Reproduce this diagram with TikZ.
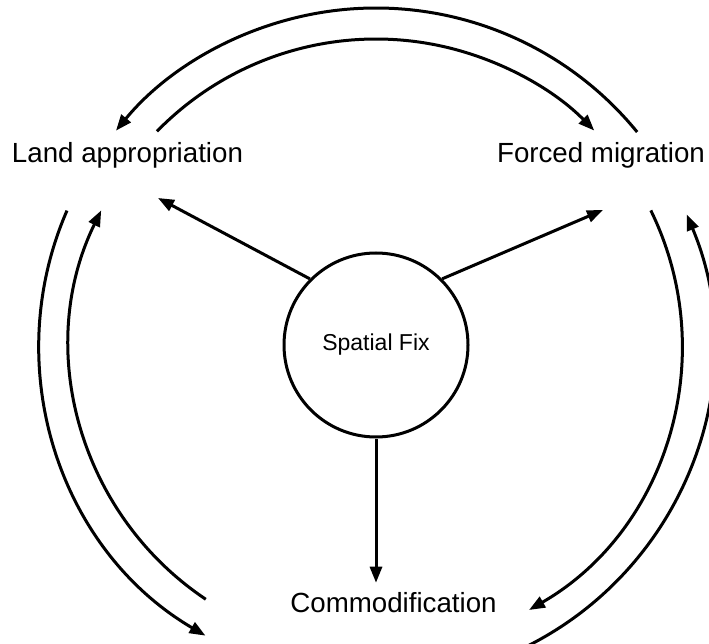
\documentclass[tikz,border=0pt]{standalone}
\usepackage{fontspec}
\setmainfont{Liberation Sans}
\usetikzlibrary{arrows.meta}

\tikzset{
  link/.style={line width=3pt,-{Triangle[length=16pt,width=12pt]}},
  plain/.style={line width=3pt},
  topic/.style={anchor=base,inner sep=0pt,font=\fontsize{27.7}{33}\selectfont},
}

\begin{document}
\begin{tikzpicture}[x=1pt,y=1pt]
                \useasboundingbox (0,0) rectangle (709,643);
                \node[topic] (land) at (127.5,480) {Land appropriation};
                \node[topic] (forced) at (601,480) {Forced migration};
                \node[topic,inner sep=9pt] (comm) at (393.5,31) {Commodification};
                \node[plain,draw,circle,minimum size=184pt,font=\fontsize{23}{28}\selectfont] (fix) at (376,298) {Spatial Fix};
                \coordinate (landin) at (158,445);
                \coordinate (forcedin) at (603,433);
                % spokes
                \draw[link] (fix.135) -- (landin);
                \draw[link] (fix.45) -- (forcedin);
                \draw[link] (fix.south) -- (fix.south |- comm.north);
                % arcs round the fix
                \foreach \a/\b/\r in {39.2/140.5/337, 135.7/44.5/306, 156.5/239.6/337,
                                      236.2/153.9/306, 26.1/-60/306, -63/22.8/337}{
                    \draw[link] ([shift={(\a:\r)}]fix.center) arc[start angle=\a,end angle=\b,radius=\r];
                }
            \end{tikzpicture}
\end{document}
